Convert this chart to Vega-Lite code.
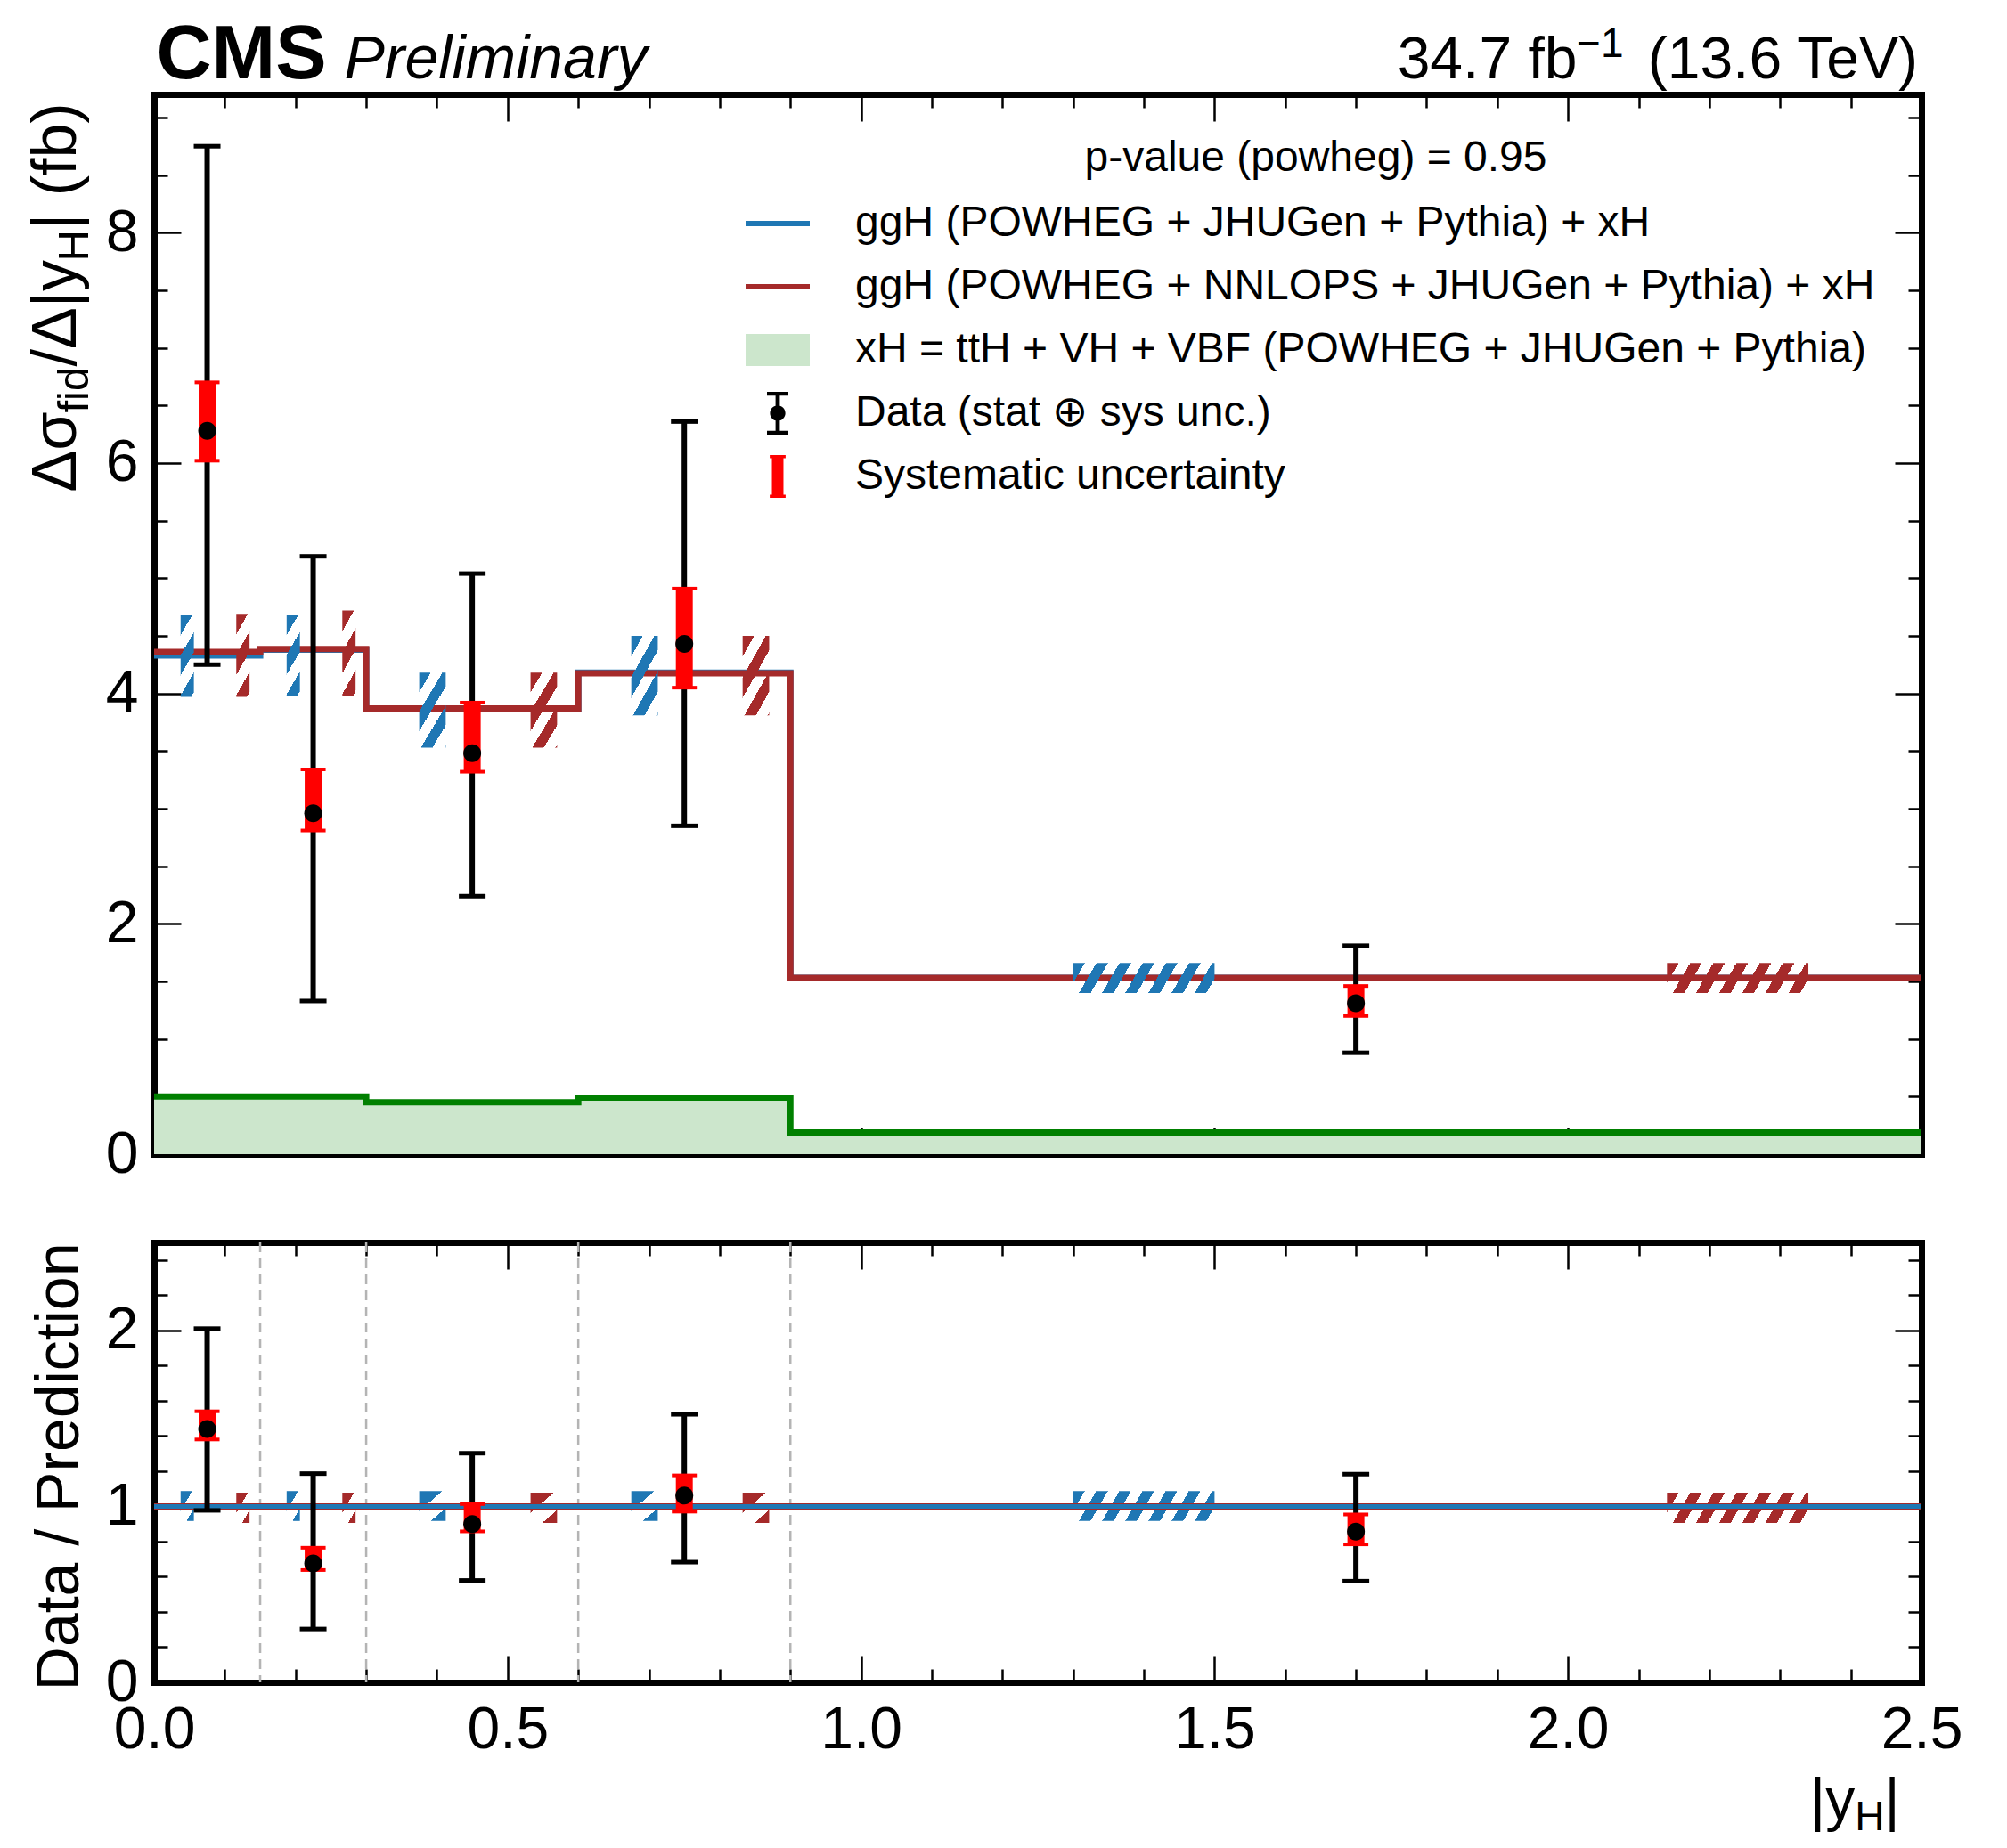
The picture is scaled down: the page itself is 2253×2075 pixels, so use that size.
{
"$schema":"https://vega.github.io/schema/vega-lite/v6.json",
"background":"white",
"padding":{"left":28,"top":18,"right":0,"bottom":0},
"spacing":64,
"datasets":{
"bins":[
{"lo":0,"hi":0.15,"c":0.075,"d":6.28,"dlo":4.25,"dhi":8.75,"slo":6.02,"shi":6.70,"r":1.44,"rlo":0.977,"rhi":2.01,"rslo":1.38,"rshi":1.54,"s":"Data (stat ⊕ sys unc.)"},
{"lo":0.15,"hi":0.3,"c":0.225,"d":2.96,"dlo":1.33,"dhi":5.19,"slo":2.81,"shi":3.34,"r":0.675,"rlo":0.303,"rhi":1.186,"rslo":0.638,"rshi":0.765,"s":"Data (stat ⊕ sys unc.)"},
{"lo":0.3,"hi":0.6,"c":0.45,"d":3.48,"dlo":2.24,"dhi":5.04,"slo":3.32,"shi":3.92,"r":0.899,"rlo":0.579,"rhi":1.302,"rslo":0.858,"rshi":1.013,"s":"Data (stat ⊕ sys unc.)"},
{"lo":0.6,"hi":0.9,"c":0.75,"d":4.43,"dlo":2.85,"dhi":6.36,"slo":4.05,"shi":4.91,"r":1.061,"rlo":0.683,"rhi":1.523,"rslo":0.970,"rshi":1.176,"s":"Data (stat ⊕ sys unc.)"},
{"lo":0.9,"hi":2.5,"c":1.7,"d":1.31,"dlo":0.88,"dhi":1.81,"slo":1.20,"shi":1.46,"r":0.856,"rlo":0.575,"rhi":1.183,"rslo":0.784,"rshi":0.954,"s":"Data (stat ⊕ sys unc.)"}
],
"edges":[
{"x":0,"pw":4.33,"nn":4.36,"xh":0.50},
{"x":0.15,"pw":4.38,"nn":4.385,"xh":0.50},
{"x":0.3,"pw":3.87,"nn":3.87,"xh":0.45},
{"x":0.6,"pw":4.18,"nn":4.175,"xh":0.49},
{"x":0.9,"pw":1.53,"nn":1.53,"xh":0.19},
{"x":2.5,"pw":1.53,"nn":1.53,"xh":0.19}
],
"unc":[
{"m":"pw","g":"n","x1":0.0375,"x2":0.05625,"y1":3.97,"y2":4.68,"q1":0.917,"q2":1.087},
{"m":"pw","g":"n","x1":0.1875,"x2":0.20625,"y1":3.98,"y2":4.68,"q1":0.917,"q2":1.087},
{"m":"pw","g":"m","x1":0.375,"x2":0.4125,"y1":3.53,"y2":4.18,"q1":0.917,"q2":1.087},
{"m":"pw","g":"m","x1":0.675,"x2":0.7125,"y1":3.81,"y2":4.50,"q1":0.917,"q2":1.087},
{"m":"pw","g":"w","x1":1.3,"x2":1.5,"y1":1.40,"y2":1.66,"q1":0.917,"q2":1.087},
{"m":"nn","g":"n","x1":0.11625,"x2":0.135,"y1":3.97,"y2":4.69,"q1":0.906,"q2":1.078},
{"m":"nn","g":"n","x1":0.26625,"x2":0.285,"y1":3.98,"y2":4.72,"q1":0.906,"q2":1.078},
{"m":"nn","g":"m","x1":0.5325,"x2":0.57,"y1":3.53,"y2":4.18,"q1":0.906,"q2":1.078},
{"m":"nn","g":"m","x1":0.8325,"x2":0.87,"y1":3.81,"y2":4.50,"q1":0.906,"q2":1.078},
{"m":"nn","g":"w","x1":2.14,"x2":2.34,"y1":1.40,"y2":1.66,"q1":0.906,"q2":1.078}
]
},
"vconcat":[
{
"width":1984,"height":1190,
"resolve":{"axis":{"x":"independent","y":"independent"}},
"layer":[
{"data":{"name":"edges"},"mark":{"type":"area","interpolate":"step-after","color":"#cce6cc","opacity":1},
 "encoding":{
  "x":{"field":"x","type":"quantitative","scale":{"domain":[0,2.5],"nice":false,"zero":false},"axis":{"orient":"bottom","values":[0,0.5,1,1.5,2,2.5],"labels":false,"ticks":true,"tickSize":-30,"tickWidth":2.5,"domain":true,"domainWidth":7,"domainCap":"square","title":null}},
  "y":{"field":"xh","type":"quantitative","scale":{"domain":[0,9.2],"nice":false,"zero":false},"axis":{"orient":"left","values":[0,2,4,6,8],"labels":false,"ticks":true,"tickSize":-30,"tickWidth":2.5,"domain":true,"domainWidth":7,"domainCap":"square","title":null}},
  "y2":{"datum":0}}},
{"data":{"name":"edges"},"mark":{"type":"line","interpolate":"step-after","color":"#008000","strokeWidth":7},
 "encoding":{
  "x":{"field":"x","type":"quantitative","scale":{"domain":[0,2.5],"nice":false,"zero":false},"axis":{"orient":"bottom","values":[0.1,0.2,0.3,0.4,0.6,0.7,0.8,0.9,1.1,1.2,1.3,1.4,1.6,1.7,1.8,1.9,2.1,2.2,2.3,2.4],"labels":false,"ticks":true,"tickSize":-15,"tickWidth":2.5,"domain":false,"title":null}},
  "y":{"field":"xh","type":"quantitative","scale":{"domain":[0,9.2],"nice":false,"zero":false},"axis":{"orient":"left","values":[0.5,1,1.5,2.5,3,3.5,4.5,5,5.5,6.5,7,7.5,8.5,9],"labels":false,"ticks":true,"tickSize":-15,"tickWidth":2.5,"domain":false,"title":null}}}},
{"data":{"name":"edges"},"mark":{"type":"line","interpolate":"step-after","color":"#1f77b4","strokeWidth":7},
 "encoding":{
  "x":{"field":"x","type":"quantitative","scale":{"domain":[0,2.5],"nice":false,"zero":false},"axis":{"orient":"top","values":[0,0.5,1,1.5,2,2.5],"labels":false,"ticks":true,"tickSize":-30,"tickWidth":2.5,"domain":true,"domainWidth":7,"domainCap":"square","title":"CMS","titleFontSize":86,"titleFontWeight":"bold","titleX":2,"titleY":-19,"titleAlign":"left","titleBaseline":"alphabetic","titleAngle":0}},
  "y":{"field":"pw","type":"quantitative","scale":{"domain":[0,9.2],"nice":false,"zero":false},"axis":{"orient":"right","values":[0,2,4,6,8],"labels":false,"ticks":true,"tickSize":-30,"tickWidth":2.5,"domain":true,"domainWidth":7,"domainCap":"square","title":null}}}},
{"data":{"name":"edges"},"mark":{"type":"line","interpolate":"step-after","color":"#a52a2a","strokeWidth":7},
 "encoding":{
  "x":{"field":"x","type":"quantitative","scale":{"domain":[0,2.5],"nice":false,"zero":false},"axis":{"orient":"top","values":[0.1,0.2,0.3,0.4,0.6,0.7,0.8,0.9,1.1,1.2,1.3,1.4,1.6,1.7,1.8,1.9,2.1,2.2,2.3,2.4],"labels":false,"ticks":true,"tickSize":-15,"tickWidth":2.5,"domain":false,"title":"Preliminary","titleFontSize":68,"titleFontStyle":"italic","titleX":213,"titleY":-19,"titleAlign":"left","titleBaseline":"alphabetic","titleAngle":0}},
  "y":{"field":"nn","type":"quantitative","scale":{"domain":[0,9.2],"nice":false,"zero":false},"axis":{"orient":"right","values":[0.5,1,1.5,2.5,3,3.5,4.5,5,5.5,6.5,7,7.5,8.5,9],"labels":false,"ticks":true,"tickSize":-15,"tickWidth":2.5,"domain":false,"title":null}}}},
{"data":{"name":"unc"},"transform":[{"filter":"datum.m=='pw' && datum.g=='n'"}],
 "mark":{"type":"rect","strokeWidth":0,"fill":{"gradient":"linear","x1":0,"y1":0,"x2":0.3333,"y2":1.1873,"stops":[{"offset":0,"color":"#1f77b4"},{"offset":0.1914,"color":"#1f77b4"},{"offset":0.1914,"color":"rgba(31,119,180,0)"},{"offset":0.3827,"color":"rgba(31,119,180,0)"},{"offset":0.3827,"color":"#1f77b4"},{"offset":0.5741,"color":"#1f77b4"},{"offset":0.5741,"color":"rgba(31,119,180,0)"},{"offset":0.7654,"color":"rgba(31,119,180,0)"},{"offset":0.7654,"color":"#1f77b4"},{"offset":0.9568,"color":"#1f77b4"},{"offset":0.9568,"color":"rgba(31,119,180,0)"},{"offset":1,"color":"rgba(31,119,180,0)"}]}},
 "encoding":{
  "x":{"field":"x1","type":"quantitative","scale":{"domain":[0,2.5],"nice":false,"zero":false},"axis":{"orient":"top","labels":false,"ticks":false,"domain":false,"title":"34.7 fb","titleFontSize":66,"titleX":1597,"titleY":-19,"titleAlign":"right","titleBaseline":"alphabetic","titleAngle":0}},
  "x2":{"field":"x2"},
  "y":{"field":"y1","type":"quantitative","scale":{"domain":[0,9.2],"nice":false,"zero":false},"axis":{"orient":"left","values":[0,2,4,6,8],"labels":true,"ticks":false,"domain":false,"labelFontSize":66,"labelPadding":18,"title":null}},
  "y2":{"field":"y2"}}},
{"data":{"name":"unc"},"transform":[{"filter":"datum.m=='nn' && datum.g=='n'"}],
 "mark":{"type":"rect","strokeWidth":0,"fill":{"gradient":"linear","x1":0,"y1":0,"x2":0.3333,"y2":1.1873,"stops":[{"offset":0,"color":"#a52a2a"},{"offset":0.1914,"color":"#a52a2a"},{"offset":0.1914,"color":"rgba(165,42,42,0)"},{"offset":0.3827,"color":"rgba(165,42,42,0)"},{"offset":0.3827,"color":"#a52a2a"},{"offset":0.5741,"color":"#a52a2a"},{"offset":0.5741,"color":"rgba(165,42,42,0)"},{"offset":0.7654,"color":"rgba(165,42,42,0)"},{"offset":0.7654,"color":"#a52a2a"},{"offset":0.9568,"color":"#a52a2a"},{"offset":0.9568,"color":"rgba(165,42,42,0)"},{"offset":1,"color":"rgba(165,42,42,0)"}]}},
 "encoding":{
  "x":{"field":"x1","type":"quantitative","scale":{"domain":[0,2.5],"nice":false,"zero":false},"axis":{"orient":"top","labels":false,"ticks":false,"domain":false,"title":"−1","titleFontSize":46,"titleX":1649,"titleY":-43,"titleAlign":"right","titleBaseline":"alphabetic","titleAngle":0}},
  "x2":{"field":"x2"},
  "y":{"field":"y1","type":"quantitative","scale":{"domain":[0,9.2],"nice":false,"zero":false},"axis":{"orient":"left","labels":false,"ticks":false,"domain":false,"title":"Δσ","titleFontSize":70,"titleAngle":270,"titleAlign":"left","titleBaseline":"alphabetic","titleX":-88.5,"titleY":446}},
  "y2":{"field":"y2"}}},
{"data":{"name":"unc"},"transform":[{"filter":"datum.m=='pw' && datum.g=='m'"}],
 "mark":{"type":"rect","strokeWidth":0,"fill":{"gradient":"linear","x1":0,"y1":0,"x2":0.7009,"y2":1.178,"stops":[{"offset":0,"color":"#1f77b4"},{"offset":0.1629,"color":"#1f77b4"},{"offset":0.1629,"color":"rgba(31,119,180,0)"},{"offset":0.3258,"color":"rgba(31,119,180,0)"},{"offset":0.3258,"color":"#1f77b4"},{"offset":0.4887,"color":"#1f77b4"},{"offset":0.4887,"color":"rgba(31,119,180,0)"},{"offset":0.6516,"color":"rgba(31,119,180,0)"},{"offset":0.6516,"color":"#1f77b4"},{"offset":0.8145,"color":"#1f77b4"},{"offset":0.8145,"color":"rgba(31,119,180,0)"},{"offset":0.9774,"color":"rgba(31,119,180,0)"},{"offset":0.9774,"color":"#1f77b4"},{"offset":1,"color":"#1f77b4"}]}},
 "encoding":{
  "x":{"field":"x1","type":"quantitative","scale":{"domain":[0,2.5],"nice":false,"zero":false},"axis":{"orient":"top","labels":false,"ticks":false,"domain":false,"title":"(13.6 TeV)","titleFontSize":66,"titleX":1979.5,"titleY":-19,"titleAlign":"right","titleBaseline":"alphabetic","titleAngle":0}},
  "x2":{"field":"x2"},
  "y":{"field":"y1","type":"quantitative","scale":{"domain":[0,9.2],"nice":false,"zero":false},"axis":{"orient":"left","labels":false,"ticks":false,"domain":false,"title":"fid","titleFontSize":49,"titleAngle":270,"titleAlign":"left","titleBaseline":"alphabetic","titleX":-74.5,"titleY":357}},
  "y2":{"field":"y2"}}},
{"data":{"name":"unc"},"transform":[{"filter":"datum.m=='nn' && datum.g=='m'"}],
 "mark":{"type":"rect","strokeWidth":0,"fill":{"gradient":"linear","x1":0,"y1":0,"x2":0.7009,"y2":1.178,"stops":[{"offset":0,"color":"#a52a2a"},{"offset":0.1629,"color":"#a52a2a"},{"offset":0.1629,"color":"rgba(165,42,42,0)"},{"offset":0.3258,"color":"rgba(165,42,42,0)"},{"offset":0.3258,"color":"#a52a2a"},{"offset":0.4887,"color":"#a52a2a"},{"offset":0.4887,"color":"rgba(165,42,42,0)"},{"offset":0.6516,"color":"rgba(165,42,42,0)"},{"offset":0.6516,"color":"#a52a2a"},{"offset":0.8145,"color":"#a52a2a"},{"offset":0.8145,"color":"rgba(165,42,42,0)"},{"offset":0.9774,"color":"rgba(165,42,42,0)"},{"offset":0.9774,"color":"#a52a2a"},{"offset":1,"color":"#a52a2a"}]}},
 "encoding":{
  "x":{"field":"x1","type":"quantitative","scale":{"domain":[0,2.5],"nice":false,"zero":false},"axis":null},
  "x2":{"field":"x2"},
  "y":{"field":"y1","type":"quantitative","scale":{"domain":[0,9.2],"nice":false,"zero":false},"axis":{"orient":"left","labels":false,"ticks":false,"domain":false,"title":"/Δ|y","titleFontSize":70,"titleAngle":270,"titleAlign":"left","titleBaseline":"alphabetic","titleX":-88.5,"titleY":305}},
  "y2":{"field":"y2"}}},
{"data":{"name":"unc"},"transform":[{"filter":"datum.m=='pw' && datum.g=='w'"}],
 "mark":{"type":"rect","strokeWidth":0,"fill":{"gradient":"linear","x1":0,"y1":0,"x2":1.1057,"y2":0.1352,"stops":[{"offset":0,"color":"#1f77b4"},{"offset":0.073,"color":"#1f77b4"},{"offset":0.073,"color":"rgba(31,119,180,0)"},{"offset":0.1459,"color":"rgba(31,119,180,0)"},{"offset":0.1459,"color":"#1f77b4"},{"offset":0.2189,"color":"#1f77b4"},{"offset":0.2189,"color":"rgba(31,119,180,0)"},{"offset":0.2918,"color":"rgba(31,119,180,0)"},{"offset":0.2918,"color":"#1f77b4"},{"offset":0.3648,"color":"#1f77b4"},{"offset":0.3648,"color":"rgba(31,119,180,0)"},{"offset":0.4378,"color":"rgba(31,119,180,0)"},{"offset":0.4378,"color":"#1f77b4"},{"offset":0.5107,"color":"#1f77b4"},{"offset":0.5107,"color":"rgba(31,119,180,0)"},{"offset":0.5837,"color":"rgba(31,119,180,0)"},{"offset":0.5837,"color":"#1f77b4"},{"offset":0.6567,"color":"#1f77b4"},{"offset":0.6567,"color":"rgba(31,119,180,0)"},{"offset":0.7296,"color":"rgba(31,119,180,0)"},{"offset":0.7296,"color":"#1f77b4"},{"offset":0.8026,"color":"#1f77b4"},{"offset":0.8026,"color":"rgba(31,119,180,0)"},{"offset":0.8755,"color":"rgba(31,119,180,0)"},{"offset":0.8755,"color":"#1f77b4"},{"offset":0.9485,"color":"#1f77b4"},{"offset":0.9485,"color":"rgba(31,119,180,0)"},{"offset":1,"color":"rgba(31,119,180,0)"}]}},
 "encoding":{
  "x":{"field":"x1","type":"quantitative","scale":{"domain":[0,2.5],"nice":false,"zero":false},"axis":null},
  "x2":{"field":"x2"},
  "y":{"field":"y1","type":"quantitative","scale":{"domain":[0,9.2],"nice":false,"zero":false},"axis":{"orient":"left","labels":false,"ticks":false,"domain":false,"title":"H","titleFontSize":49,"titleAngle":270,"titleAlign":"left","titleBaseline":"alphabetic","titleX":-74.5,"titleY":187}},
  "y2":{"field":"y2"}}},
{"data":{"name":"unc"},"transform":[{"filter":"datum.m=='nn' && datum.g=='w'"}],
 "mark":{"type":"rect","strokeWidth":0,"fill":{"gradient":"linear","x1":0,"y1":0,"x2":1.1057,"y2":0.1352,"stops":[{"offset":0,"color":"#a52a2a"},{"offset":0.073,"color":"#a52a2a"},{"offset":0.073,"color":"rgba(165,42,42,0)"},{"offset":0.1459,"color":"rgba(165,42,42,0)"},{"offset":0.1459,"color":"#a52a2a"},{"offset":0.2189,"color":"#a52a2a"},{"offset":0.2189,"color":"rgba(165,42,42,0)"},{"offset":0.2918,"color":"rgba(165,42,42,0)"},{"offset":0.2918,"color":"#a52a2a"},{"offset":0.3648,"color":"#a52a2a"},{"offset":0.3648,"color":"rgba(165,42,42,0)"},{"offset":0.4378,"color":"rgba(165,42,42,0)"},{"offset":0.4378,"color":"#a52a2a"},{"offset":0.5107,"color":"#a52a2a"},{"offset":0.5107,"color":"rgba(165,42,42,0)"},{"offset":0.5837,"color":"rgba(165,42,42,0)"},{"offset":0.5837,"color":"#a52a2a"},{"offset":0.6567,"color":"#a52a2a"},{"offset":0.6567,"color":"rgba(165,42,42,0)"},{"offset":0.7296,"color":"rgba(165,42,42,0)"},{"offset":0.7296,"color":"#a52a2a"},{"offset":0.8026,"color":"#a52a2a"},{"offset":0.8026,"color":"rgba(165,42,42,0)"},{"offset":0.8755,"color":"rgba(165,42,42,0)"},{"offset":0.8755,"color":"#a52a2a"},{"offset":0.9485,"color":"#a52a2a"},{"offset":0.9485,"color":"rgba(165,42,42,0)"},{"offset":1,"color":"rgba(165,42,42,0)"}]}},
 "encoding":{
  "x":{"field":"x1","type":"quantitative","scale":{"domain":[0,2.5],"nice":false,"zero":false},"axis":null},
  "x2":{"field":"x2"},
  "y":{"field":"y1","type":"quantitative","scale":{"domain":[0,9.2],"nice":false,"zero":false},"axis":{"orient":"left","labels":false,"ticks":false,"domain":false,"title":"| (fb)","titleFontSize":70,"titleAngle":270,"titleAlign":"left","titleBaseline":"alphabetic","titleX":-88.5,"titleY":151.5}},
  "y2":{"field":"y2"}}},
{"data":{"name":"bins"},"mark":{"type":"rule","color":"black","strokeWidth":6},
 "encoding":{"x":{"field":"c","type":"quantitative","scale":{"domain":[0,2.5],"nice":false,"zero":false},"axis":null},
  "y":{"field":"dlo","type":"quantitative","scale":{"domain":[0,9.2],"nice":false,"zero":false},"axis":null},"y2":{"field":"dhi"}}},
{"data":{"name":"bins"},"transform":[{"fold":["dlo","dhi"],"as":["k","v"]}],"mark":{"type":"tick","orient":"horizontal","color":"black","size":30,"thickness":5,"opacity":1},
 "encoding":{"x":{"field":"c","type":"quantitative","scale":{"domain":[0,2.5],"nice":false,"zero":false},"axis":null},
  "y":{"field":"v","type":"quantitative","scale":{"domain":[0,9.2],"nice":false,"zero":false},"axis":null}}},
{"data":{"name":"bins"},"mark":{"type":"rule","color":"red","strokeWidth":19},
 "encoding":{"x":{"field":"c","type":"quantitative","scale":{"domain":[0,2.5],"nice":false,"zero":false},"axis":null},
  "y":{"field":"slo","type":"quantitative","scale":{"domain":[0,9.2],"nice":false,"zero":false},"axis":null},"y2":{"field":"shi"}}},
{"data":{"name":"bins"},"transform":[{"fold":["slo","shi"],"as":["k","v"]}],"mark":{"type":"tick","orient":"horizontal","color":"red","size":28,"thickness":4,"opacity":1},
 "encoding":{"x":{"field":"c","type":"quantitative","scale":{"domain":[0,2.5],"nice":false,"zero":false},"axis":null},
  "y":{"field":"v","type":"quantitative","scale":{"domain":[0,9.2],"nice":false,"zero":false},"axis":null}}},
{"data":{"name":"bins"},"mark":{"type":"point","filled":true,"size":2500,"opacity":1,"strokeWidth":0},
 "encoding":{"x":{"field":"c","type":"quantitative","scale":{"domain":[0,2.5],"nice":false,"zero":false},"axis":null},
  "y":{"field":"d","type":"quantitative","scale":{"domain":[0,9.2],"nice":false,"zero":false},"axis":null},
  "shape":{"condition":{"test":"true","value":"M0.4,0A0.4,0.4,0,1,1,-0.4,0A0.4,0.4,0,1,1,0.4,0Z"},"field":"s","type":"nominal",
   "scale":{"domain":["ggH (POWHEG + JHUGen + Pythia) + xH","ggH (POWHEG + NNLOPS + JHUGen + Pythia) + xH","xH = ttH + VH + VBF (POWHEG + JHUGen + Pythia)","Data (stat ⊕ sys unc.)","Systematic uncertainty"],
    "range":["M-1.5,-0.13H1.5V0.13H-1.5Z","M-1.5,-0.13H1.5V0.13H-1.5Z","M-1.5,-0.75H1.5V0.75H-1.5Z","M-0.5,-1.0H0.5V-0.82H-0.5ZM-0.1,-0.92H0.1V0.92H-0.1ZM-0.5,0.82H0.5V1.0H-0.5ZM0.36,0A0.36,0.36,0,1,1,-0.36,0A0.36,0.36,0,1,1,0.36,0Z","M-0.27,-0.93H0.27V0.93H-0.27ZM-0.37,-1.0H0.37V-0.85H-0.37ZM-0.37,0.85H0.37V1.0H-0.37Z"]},
   "legend":{"orient":"none","legendX":676,"legendY":48,"direction":"vertical","title":"p-value (powheg) = 0.95","titleFontSize":48,"titleFontWeight":"normal","titleAnchor":"middle","titlePadding":25,"titleColor":"black","labelFontSize":48,"labelColor":"black","labelLimit":3000,"titleLimit":3000,"labelOffset":63,"rowPadding":23,"symbolSize":2304,"symbolStrokeWidth":0,"padding":0}},
  "color":{"field":"s","type":"nominal",
   "scale":{"domain":["ggH (POWHEG + JHUGen + Pythia) + xH","ggH (POWHEG + NNLOPS + JHUGen + Pythia) + xH","xH = ttH + VH + VBF (POWHEG + JHUGen + Pythia)","Data (stat ⊕ sys unc.)","Systematic uncertainty"],"range":["#1f77b4","#a52a2a","#cce6cc","black","red"]},
   "legend":{"orient":"none","legendX":676,"legendY":48,"direction":"vertical","title":"p-value (powheg) = 0.95","titleFontSize":48,"titleFontWeight":"normal","titleAnchor":"middle","titlePadding":25,"titleColor":"black","labelFontSize":48,"labelColor":"black","labelLimit":3000,"titleLimit":3000,"labelOffset":63,"rowPadding":23,"symbolSize":2304,"symbolStrokeWidth":0,"padding":0}}}}
]
},
{
"width":1984,"height":494,
"resolve":{"axis":{"x":"independent","y":"independent"}},
"layer":[
{"data":{"name":"edges"},"transform":[{"filter":"datum.x > 0 && datum.x < 1"}],"mark":{"type":"rule","color":"#b4b4b4","strokeWidth":2.5,"strokeDash":[11,7]},
 "encoding":{"x":{"field":"x","type":"quantitative","scale":{"domain":[0,2.5],"nice":false,"zero":false},"axis":{"orient":"bottom","values":[0,0.5,1,1.5,2,2.5],"format":".1f","labels":true,"ticks":false,"domain":false,"labelFontSize":66,"labelPadding":21,"title":"|y","titleFontSize":66,"titleX":1858.5,"titleY":153,"titleAlign":"left","titleBaseline":"alphabetic","titleAngle":0}}}},
{"data":{"name":"unc"},"transform":[{"filter":"datum.m=='pw' && datum.g!='w'"}],
 "mark":{"type":"rect","strokeWidth":0,"fill":{"gradient":"linear","x1":0,"y1":0,"x2":0.8533,"y2":1.1125,"stops":[{"offset":0,"color":"#1f77b4"},{"offset":0.3789,"color":"#1f77b4"},{"offset":0.3789,"color":"rgba(31,119,180,0)"},{"offset":0.7578,"color":"rgba(31,119,180,0)"},{"offset":0.7578,"color":"#1f77b4"},{"offset":1,"color":"#1f77b4"}]}},
 "encoding":{
  "x":{"field":"x1","type":"quantitative","scale":{"domain":[0,2.5],"nice":false,"zero":false},"axis":{"orient":"bottom","values":[0,0.5,1,1.5,2,2.5],"labels":false,"ticks":true,"tickSize":-30,"tickWidth":2.5,"domain":true,"domainWidth":7,"domainCap":"square","title":null}},
  "x2":{"field":"x2"},
  "y":{"field":"q1","type":"quantitative","scale":{"domain":[0,2.5],"nice":false,"zero":false},"axis":{"orient":"left","values":[0,1,2],"labels":false,"ticks":true,"tickSize":-30,"tickWidth":2.5,"domain":true,"domainWidth":7,"domainCap":"square","title":null}},
  "y2":{"field":"q2"}}},
{"data":{"name":"unc"},"transform":[{"filter":"datum.m=='nn' && datum.g!='w'"}],
 "mark":{"type":"rect","strokeWidth":0,"fill":{"gradient":"linear","x1":0,"y1":0,"x2":0.8533,"y2":1.1125,"stops":[{"offset":0,"color":"#a52a2a"},{"offset":0.3789,"color":"#a52a2a"},{"offset":0.3789,"color":"rgba(165,42,42,0)"},{"offset":0.7578,"color":"rgba(165,42,42,0)"},{"offset":0.7578,"color":"#a52a2a"},{"offset":1,"color":"#a52a2a"}]}},
 "encoding":{
  "x":{"field":"x1","type":"quantitative","scale":{"domain":[0,2.5],"nice":false,"zero":false},"axis":{"orient":"bottom","values":[0.1,0.2,0.3,0.4,0.6,0.7,0.8,0.9,1.1,1.2,1.3,1.4,1.6,1.7,1.8,1.9,2.1,2.2,2.3,2.4],"labels":false,"ticks":true,"tickSize":-15,"tickWidth":2.5,"domain":false,"title":null}},
  "x2":{"field":"x2"},
  "y":{"field":"q1","type":"quantitative","scale":{"domain":[0,2.5],"nice":false,"zero":false},"axis":{"orient":"left","values":[0.2,0.4,0.6,0.8,1.2,1.4,1.6,1.8,2.2,2.4],"labels":false,"ticks":true,"tickSize":-15,"tickWidth":2.5,"domain":false,"title":null}},
  "y2":{"field":"q2"}}},
{"data":{"name":"unc"},"transform":[{"filter":"datum.m=='pw' && datum.g=='w'"}],
 "mark":{"type":"rect","strokeWidth":0,"fill":{"gradient":"linear","x1":0,"y1":0,"x2":1.1057,"y2":0.1352,"stops":[{"offset":0,"color":"#1f77b4"},{"offset":0.073,"color":"#1f77b4"},{"offset":0.073,"color":"rgba(31,119,180,0)"},{"offset":0.1459,"color":"rgba(31,119,180,0)"},{"offset":0.1459,"color":"#1f77b4"},{"offset":0.2189,"color":"#1f77b4"},{"offset":0.2189,"color":"rgba(31,119,180,0)"},{"offset":0.2918,"color":"rgba(31,119,180,0)"},{"offset":0.2918,"color":"#1f77b4"},{"offset":0.3648,"color":"#1f77b4"},{"offset":0.3648,"color":"rgba(31,119,180,0)"},{"offset":0.4378,"color":"rgba(31,119,180,0)"},{"offset":0.4378,"color":"#1f77b4"},{"offset":0.5107,"color":"#1f77b4"},{"offset":0.5107,"color":"rgba(31,119,180,0)"},{"offset":0.5837,"color":"rgba(31,119,180,0)"},{"offset":0.5837,"color":"#1f77b4"},{"offset":0.6567,"color":"#1f77b4"},{"offset":0.6567,"color":"rgba(31,119,180,0)"},{"offset":0.7296,"color":"rgba(31,119,180,0)"},{"offset":0.7296,"color":"#1f77b4"},{"offset":0.8026,"color":"#1f77b4"},{"offset":0.8026,"color":"rgba(31,119,180,0)"},{"offset":0.8755,"color":"rgba(31,119,180,0)"},{"offset":0.8755,"color":"#1f77b4"},{"offset":0.9485,"color":"#1f77b4"},{"offset":0.9485,"color":"rgba(31,119,180,0)"},{"offset":1,"color":"rgba(31,119,180,0)"}]}},
 "encoding":{
  "x":{"field":"x1","type":"quantitative","scale":{"domain":[0,2.5],"nice":false,"zero":false},"axis":{"orient":"top","values":[0,0.5,1,1.5,2,2.5],"labels":false,"ticks":true,"tickSize":-30,"tickWidth":2.5,"domain":true,"domainWidth":7,"domainCap":"square","title":null}},
  "x2":{"field":"x2"},
  "y":{"field":"q1","type":"quantitative","scale":{"domain":[0,2.5],"nice":false,"zero":false},"axis":{"orient":"right","values":[0,1,2],"labels":false,"ticks":true,"tickSize":-30,"tickWidth":2.5,"domain":true,"domainWidth":7,"domainCap":"square","title":null}},
  "y2":{"field":"q2"}}},
{"data":{"name":"unc"},"transform":[{"filter":"datum.m=='nn' && datum.g=='w'"}],
 "mark":{"type":"rect","strokeWidth":0,"fill":{"gradient":"linear","x1":0,"y1":0,"x2":1.1057,"y2":0.1352,"stops":[{"offset":0,"color":"#a52a2a"},{"offset":0.073,"color":"#a52a2a"},{"offset":0.073,"color":"rgba(165,42,42,0)"},{"offset":0.1459,"color":"rgba(165,42,42,0)"},{"offset":0.1459,"color":"#a52a2a"},{"offset":0.2189,"color":"#a52a2a"},{"offset":0.2189,"color":"rgba(165,42,42,0)"},{"offset":0.2918,"color":"rgba(165,42,42,0)"},{"offset":0.2918,"color":"#a52a2a"},{"offset":0.3648,"color":"#a52a2a"},{"offset":0.3648,"color":"rgba(165,42,42,0)"},{"offset":0.4378,"color":"rgba(165,42,42,0)"},{"offset":0.4378,"color":"#a52a2a"},{"offset":0.5107,"color":"#a52a2a"},{"offset":0.5107,"color":"rgba(165,42,42,0)"},{"offset":0.5837,"color":"rgba(165,42,42,0)"},{"offset":0.5837,"color":"#a52a2a"},{"offset":0.6567,"color":"#a52a2a"},{"offset":0.6567,"color":"rgba(165,42,42,0)"},{"offset":0.7296,"color":"rgba(165,42,42,0)"},{"offset":0.7296,"color":"#a52a2a"},{"offset":0.8026,"color":"#a52a2a"},{"offset":0.8026,"color":"rgba(165,42,42,0)"},{"offset":0.8755,"color":"rgba(165,42,42,0)"},{"offset":0.8755,"color":"#a52a2a"},{"offset":0.9485,"color":"#a52a2a"},{"offset":0.9485,"color":"rgba(165,42,42,0)"},{"offset":1,"color":"rgba(165,42,42,0)"}]}},
 "encoding":{
  "x":{"field":"x1","type":"quantitative","scale":{"domain":[0,2.5],"nice":false,"zero":false},"axis":{"orient":"top","values":[0.1,0.2,0.3,0.4,0.6,0.7,0.8,0.9,1.1,1.2,1.3,1.4,1.6,1.7,1.8,1.9,2.1,2.2,2.3,2.4],"labels":false,"ticks":true,"tickSize":-15,"tickWidth":2.5,"domain":false,"title":null}},
  "x2":{"field":"x2"},
  "y":{"field":"q1","type":"quantitative","scale":{"domain":[0,2.5],"nice":false,"zero":false},"axis":{"orient":"right","values":[0.2,0.4,0.6,0.8,1.2,1.4,1.6,1.8,2.2,2.4],"labels":false,"ticks":true,"tickSize":-15,"tickWidth":2.5,"domain":false,"title":null}},
  "y2":{"field":"q2"}}},
{"data":{"values":[{"ratio":1}]},"mark":{"type":"rule","color":"#a52a2a","strokeWidth":7},
 "encoding":{"y":{"field":"ratio","type":"quantitative","scale":{"domain":[0,2.5],"nice":false,"zero":false},"axis":{"orient":"left","values":[0,1,2],"labels":true,"ticks":false,"domain":false,"labelFontSize":66,"labelPadding":18,"title":"Data / Prediction","titleFontSize":68,"titleAngle":270,"titleAlign":"right","titleBaseline":"alphabetic","titleX":-86,"titleY":0}}}},
{"data":{"values":[{"ratio":1}]},"mark":{"type":"rule","color":"#1f77b4","strokeWidth":5},
 "encoding":{"y":{"field":"ratio","type":"quantitative","scale":{"domain":[0,2.5],"nice":false,"zero":false},"axis":null}}},
{"data":{"name":"bins"},"mark":{"type":"rule","color":"black","strokeWidth":6},
 "encoding":{"x":{"field":"c","type":"quantitative","scale":{"domain":[0,2.5],"nice":false,"zero":false},"axis":{"orient":"bottom","labels":false,"ticks":false,"domain":false,"title":"H","titleFontSize":46,"titleX":1908.7,"titleY":165,"titleAlign":"left","titleBaseline":"alphabetic","titleAngle":0}},
  "y":{"field":"rlo","type":"quantitative","scale":{"domain":[0,2.5],"nice":false,"zero":false},"axis":null},"y2":{"field":"rhi"}}},
{"data":{"name":"bins"},"transform":[{"fold":["rlo","rhi"],"as":["k","v"]}],"mark":{"type":"tick","orient":"horizontal","color":"black","size":30,"thickness":5,"opacity":1},
 "encoding":{"x":{"field":"c","type":"quantitative","scale":{"domain":[0,2.5],"nice":false,"zero":false},"axis":{"orient":"bottom","labels":false,"ticks":false,"domain":false,"title":"|","titleFontSize":66,"titleX":1941.9,"titleY":153,"titleAlign":"left","titleBaseline":"alphabetic","titleAngle":0}},
  "y":{"field":"v","type":"quantitative","scale":{"domain":[0,2.5],"nice":false,"zero":false},"axis":null}}},
{"data":{"name":"bins"},"mark":{"type":"rule","color":"red","strokeWidth":19},
 "encoding":{"x":{"field":"c","type":"quantitative","scale":{"domain":[0,2.5],"nice":false,"zero":false},"axis":null},
  "y":{"field":"rslo","type":"quantitative","scale":{"domain":[0,2.5],"nice":false,"zero":false},"axis":null},"y2":{"field":"rshi"}}},
{"data":{"name":"bins"},"transform":[{"fold":["rslo","rshi"],"as":["k","v"]}],"mark":{"type":"tick","orient":"horizontal","color":"red","size":28,"thickness":4,"opacity":1},
 "encoding":{"x":{"field":"c","type":"quantitative","scale":{"domain":[0,2.5],"nice":false,"zero":false},"axis":null},
  "y":{"field":"v","type":"quantitative","scale":{"domain":[0,2.5],"nice":false,"zero":false},"axis":null}}},
{"data":{"name":"bins"},"mark":{"type":"point","filled":true,"size":2500,"opacity":1,"strokeWidth":0,"color":"black","shape":"M0.4,0A0.4,0.4,0,1,1,-0.4,0A0.4,0.4,0,1,1,0.4,0Z"},
 "encoding":{"x":{"field":"c","type":"quantitative","scale":{"domain":[0,2.5],"nice":false,"zero":false},"axis":null},
  "y":{"field":"r","type":"quantitative","scale":{"domain":[0,2.5],"nice":false,"zero":false},"axis":null}}}
]
}
],
"config":{
 "font":"Liberation Sans",
 "view":{"stroke":null},
 "axis":{"grid":false,"zindex":1,"tickColor":"black","domainColor":"black","labelColor":"black","titleColor":"black","labelFont":"Liberation Sans","titleFont":"Liberation Sans","titleFontWeight":"normal","labelFlush":false,"labelOverlap":false,"labelBound":false},
 "legend":{"labelFont":"Liberation Sans","titleFont":"Liberation Sans"}
}
}
